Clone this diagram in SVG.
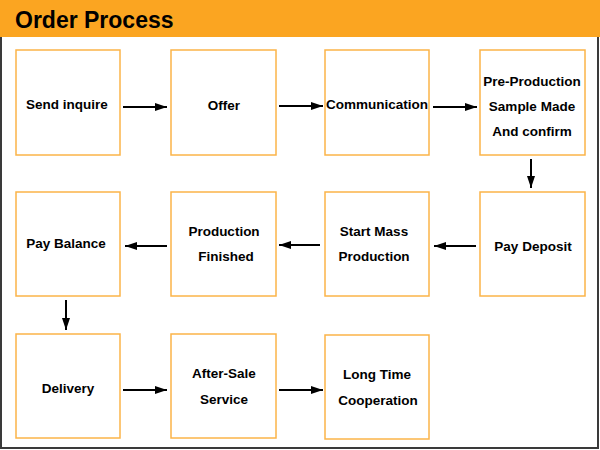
<svg xmlns="http://www.w3.org/2000/svg" width="600" height="450" viewBox="0 0 600 450">
<defs>
<style>
.box{fill:#fff;stroke:#fbb448;stroke-width:1.5}
.t{font-family:"Liberation Sans",Arial,sans-serif;font-weight:bold;font-size:13.5px;fill:#000;text-anchor:middle}
.c{stroke:#000;stroke-width:2;fill:none;marker-end:url(#ah)}
</style>
<marker id="ah" viewBox="0 0 12 8" refX="12" refY="4" markerWidth="12" markerHeight="8" markerUnits="userSpaceOnUse" orient="auto">
<path d="M0,0 L12,4 L0,8 Z" fill="#000"/>
</marker>
</defs>
<rect x="0" y="0" width="600" height="450" fill="#fff"/>
<rect x="1" y="36" width="597" height="412" fill="#fff" stroke="#3a3a3a" stroke-width="2"/>
<rect x="0" y="0" width="600" height="37" fill="#fba521"/>
<text x="15" y="28" font-family="'Liberation Sans',Arial,sans-serif" font-weight="bold" font-size="23" fill="#000">Order Process</text>

<g id="n1"><rect class="box" x="16" y="50" width="104" height="105"/><text class="t" x="67" y="109">Send inquire</text></g>
<g id="n2"><rect class="box" x="171" y="50" width="105" height="105"/><text class="t" x="224" y="110">Offer</text></g>
<g id="n3"><rect class="box" x="325" y="50" width="104" height="105"/><text class="t" x="377" y="109">Communication</text></g>
<g id="n4"><rect class="box" x="480" y="50" width="105" height="105"/><text class="t" x="532" y="86">Pre-Production</text><text class="t" x="532" y="111">Sample Made</text><text class="t" x="532" y="136">And confirm</text></g>

<g id="n5"><rect class="box" x="480" y="192" width="105" height="104"/><text class="t" x="533" y="251">Pay Deposit</text></g>
<g id="n6"><rect class="box" x="325" y="192" width="104" height="104"/><text class="t" x="374" y="236">Start Mass</text><text class="t" x="374" y="261">Production</text></g>
<g id="n7"><rect class="box" x="171" y="192" width="105" height="104"/><text class="t" x="224" y="236">Production</text><text class="t" x="226" y="261">Finished</text></g>
<g id="n8"><rect class="box" x="16" y="192" width="104" height="104"/><text class="t" x="66" y="248">Pay Balance</text></g>

<g id="n9"><rect class="box" x="16" y="334" width="104" height="104"/><text class="t" x="68" y="393">Delivery</text></g>
<g id="n10"><rect class="box" x="171" y="334" width="105" height="104"/><text class="t" x="224" y="378">After-Sale</text><text class="t" x="224" y="404">Service</text></g>
<g id="n11"><rect class="box" x="325" y="335" width="104" height="104"/><text class="t" x="377" y="379">Long Time</text><text class="t" x="378" y="405">Cooperation</text></g>

<g id="connectors">
<line class="c" x1="123" y1="107" x2="167" y2="107"/>
<line class="c" x1="279" y1="106" x2="323" y2="106"/>
<line class="c" x1="433" y1="107" x2="477" y2="107"/>
<line class="c" x1="531" y1="159" x2="531" y2="188"/>
<line class="c" x1="476" y1="246" x2="434" y2="246"/>
<line class="c" x1="320" y1="245" x2="279" y2="245"/>
<line class="c" x1="167" y1="246" x2="125" y2="246"/>
<line class="c" x1="66" y1="300" x2="66" y2="330"/>
<line class="c" x1="123" y1="390" x2="167" y2="390"/>
<line class="c" x1="279" y1="390" x2="323" y2="390"/>
</g>
</svg>
